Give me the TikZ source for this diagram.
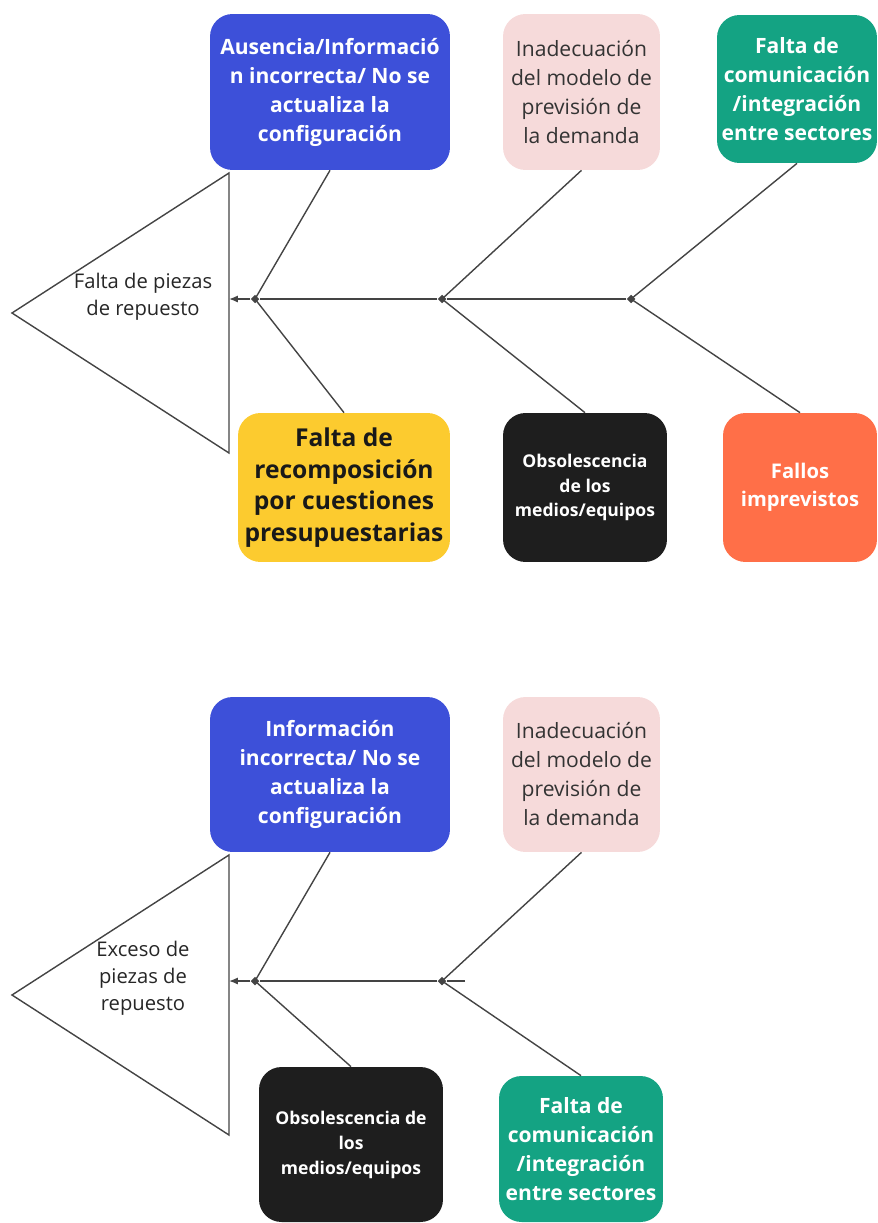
\documentclass[tikz,border=0pt]{standalone}
\usepackage{fontspec}
\setmainfont{Open Sans}
\usepackage{xcolor}
\definecolor{causeblue}{HTML}{3D50D9}
\definecolor{causepink}{HTML}{F6DADA}
\definecolor{causegreen}{HTML}{14A383}
\definecolor{causeyellow}{HTML}{FCCB2F}
\definecolor{causeblack}{HTML}{1E1E1E}
\definecolor{causeorange}{HTML}{FF6F48}
\definecolor{bonegray}{HTML}{444444}
\usepackage{tikz}
\usetikzlibrary{positioning, arrows.meta, shapes.geometric, calc}

\begin{document}
\begin{tikzpicture}[
  x=0.02cm, y=-0.02cm,
  cause/.style={rounded corners=0.45cm, align=center, inner sep=2pt,
               font=\fontsize{12}{16.5}\selectfont\bfseries, text=white},
  bone/.style={draw=bonegray, line width=0.8pt},
  joint/.style={diamond, fill=bonegray, inner sep=0pt, minimum size=5pt},
  head/.style={align=center, font=\fontsize{11.5}{15.5}\selectfont, text=black!85},
  arrow/.style={-{Latex[length=5pt, width=4pt]}, draw=bonegray, line width=0.8pt},
]
\useasboundingbox (0,0) rectangle (877,1223);

% --- Falta de piezas ---
\coordinate (t1a) at (12,313);
\coordinate (t1b) at (229,173);
\coordinate (t1c) at (229,453);
\draw[bone] (t1a) -- (t1b) -- (t1c) -- cycle;
\node[head] (prob1) at (143,297) {Falta de piezas\\de repuesto};

\node[cause, fill=causeblue, minimum width=4.8cm, minimum height=3.12cm] (blue1) at (330,92)
  {Ausencia/Informació\\n incorrecta/ No se\\actualiza la\\configuración};
\node[cause, fill=causepink, text=black!80, font=\fontsize{12}{16.5}\selectfont,
      minimum width=3.14cm, minimum height=3.12cm] (pink1) at (581.5,92)
  {Inadecuación\\del modelo de\\previsión de\\la demanda};
\node[cause, fill=causegreen, minimum width=3.2cm, minimum height=2.96cm] (green1) at (797,89)
  {Falta de\\comunicación\\/integración\\entre sectores};
\node[cause, fill=causeyellow, text=black!90, font=\fontsize{14}{18}\selectfont\bfseries,
      minimum width=4.24cm, minimum height=2.98cm] (yellow1) at (344,487.5)
  {Falta de\\recomposición\\por cuestiones\\presupuestarias};
\node[cause, fill=causeblack, font=\fontsize{10}{13.9}\selectfont\bfseries,
      minimum width=3.28cm, minimum height=2.98cm] (black1) at (585,487.5)
  {Obsolescencia\\de los\\medios/equipos};
\node[cause, fill=causeorange, font=\fontsize{11.5}{15.8}\selectfont\bfseries,
      minimum width=3.08cm, minimum height=2.98cm] (orange1) at (800,487.5)
  {Fallos\\imprevistos};

\node[joint] (j1a) at (255,299) {};
\node[joint] (j1b) at (442,299) {};
\node[joint] (j1c) at (631,299) {};
\coordinate (end1) at (229,299);

\draw[bone] (j1c) -- (j1b) -- (j1a);
\draw[arrow] (j1a) -- (end1);
\draw[bone] (j1a.center) -- (blue1.south);
\draw[bone] (j1a.center) -- (yellow1.north);
\draw[bone] (j1b.center) -- (pink1.south);
\draw[bone] (j1b.center) -- (black1.north);
\draw[bone] (j1c.center) -- (green1.south);
\draw[bone] (j1c.center) -- (orange1.north);

% --- Exceso de piezas ---
\coordinate (t2a) at (12,995);
\coordinate (t2b) at (229,855);
\coordinate (t2c) at (229,1135);
\draw[bone] (t2a) -- (t2b) -- (t2c) -- cycle;
\node[head] (prob2) at (143,978) {Exceso de\\piezas de\\repuesto};

\node[cause, fill=causeblue, minimum width=4.8cm, minimum height=3.1cm] (blue2) at (330,774.5)
  {Información\\incorrecta/ No se\\actualiza la\\configuración};
\node[cause, fill=causepink, text=black!80, font=\fontsize{12}{16.5}\selectfont,
      minimum width=3.14cm, minimum height=3.1cm] (pink2) at (581.5,774.5)
  {Inadecuación\\del modelo de\\previsión de\\la demanda};
\node[cause, fill=causeblack, font=\fontsize{10}{14.2}\selectfont\bfseries,
      minimum width=3.68cm, minimum height=3.1cm] (black2) at (351,1144.5)
  {Obsolescencia de\\los\\medios/equipos};
\node[cause, fill=causegreen, minimum width=3.28cm, minimum height=2.92cm] (green2) at (581,1149)
  {Falta de\\comunicación\\/integración\\entre sectores};

\node[joint] (j2a) at (255,981) {};
\node[joint] (j2b) at (442,981) {};
\coordinate (tail2) at (465,981);
\coordinate (end2) at (229,981);

\draw[bone] (tail2) -- (j2b) -- (j2a);
\draw[arrow] (j2a) -- (end2);
\draw[bone] (j2a.center) -- (blue2.south);
\draw[bone] (j2a.center) -- (black2.north);
\draw[bone] (j2b.center) -- (pink2.south);
\draw[bone] (j2b.center) -- (green2.north);
\end{tikzpicture}
\end{document}
